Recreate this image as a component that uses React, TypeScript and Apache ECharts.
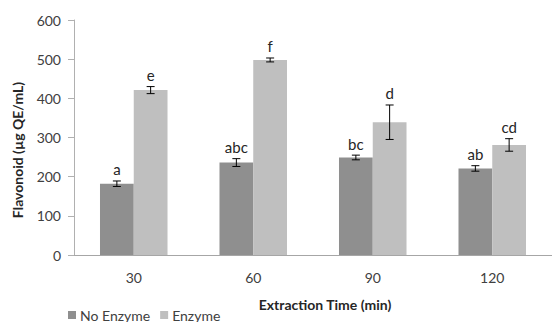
import React, { useEffect, useRef } from "react";
import * as echarts from "echarts";

const categories = ["30", "60", "90", "120"];
const noEnzyme = [182, 236, 249, 221];
const enzyme = [421, 498, 339, 281];
const noEnzymeErr = [7, 10, 6, 7];
const enzymeErr = [9, 5, 44, 16];
const noEnzymeLetters = ["a", "abc", "bc", "ab"];
const enzymeLetters = ["e", "f", "d", "cd"];
const yTicks = { min: 0, max: 600, interval: 100 };

const FONT = "Lato";
const CAT_GAP = 0.435;

function errSeries(name: string, values: number[], errs: number[], letters: string[], sign: number) {
  return {
    type: "custom",
    name: name + " err",
    z: 5,
    silent: true,
    encode: { x: 0, y: 1 },
    data: values.map((v, i) => [i, v, errs[i]]),
    renderItem: (params: any, api: any) => {
      const idx = api.value(0);
      const val = api.value(1);
      const err = api.value(2);
      const band = api.size([1, 0])[0];
      const bw = (band * (1 - CAT_GAP)) / 2;
      const top = api.coord([idx, val + err]);
      const bot = api.coord([idx, val - err]);
      const x = top[0] + (sign * bw) / 2;
      const cap = 4;
      const st = { stroke: "#000", lineWidth: 1 };
      return {
        type: "group",
        children: [
          { type: "line", shape: { x1: x, y1: top[1], x2: x, y2: bot[1] }, style: st },
          { type: "line", shape: { x1: x - cap, y1: top[1], x2: x + cap, y2: top[1] }, style: st },
          { type: "line", shape: { x1: x - cap, y1: bot[1], x2: x + cap, y2: bot[1] }, style: st },
          {
            type: "text",
            x: x,
            y: top[1] - 4,
            style: {
              text: letters[params.dataIndex],
              align: "center",
              verticalAlign: "bottom",
              fontFamily: FONT,
              fontSize: 15,
              fill: "#262626",
            },
          },
        ],
      };
    },
  };
}

export default function App() {
  const ref = useRef<HTMLDivElement>(null);
  useEffect(() => {
    if (!ref.current) return;
    const chart = echarts.init(ref.current, null, { renderer: "svg" });
    chart.setOption({
      animation: false,
      backgroundColor: "#ffffff",
      textStyle: { fontFamily: FONT },
      grid: { left: 74, top: 20, width: 481, height: 235, containLabel: false },
      legend: {
        left: 68,
        top: 308,
        padding: 0,
        itemWidth: 8,
        itemHeight: 8,
        itemGap: 10,
        icon: "rect",
        data: ["No Enzyme", "Enzyme"],
        textStyle: { fontFamily: FONT, fontSize: 14, color: "#404040", padding: [0, 0, 0, -1] },
      },
      xAxis: {
        type: "category",
        data: categories,
        axisLine: { lineStyle: { color: "#a6a6a6", width: 1 } },
        axisTick: { show: false },
        axisLabel: { fontFamily: FONT, fontSize: 14, color: "#404040", margin: 15 },
      },
      yAxis: {
        type: "value",
        min: yTicks.min,
        max: yTicks.max,
        interval: yTicks.interval,
        axisLine: { show: true, lineStyle: { color: "#b0b0b0", width: 1 } },
        axisTick: { show: true, length: 6, lineStyle: { color: "#b0b0b0" } },
        splitLine: { show: false },
        axisLabel: { fontFamily: FONT, fontSize: 14, color: "#404040", margin: 13 },
      },
      graphic: [
        {
          type: "text",
          x: 17,
          y: 150,
          rotation: Math.PI / 2,
          style: {
            text: "Flavonoid (µg QE/mL)",
            align: "center",
            verticalAlign: "middle",
            fontFamily: FONT,
            fontWeight: "bold",
            fontSize: 14,
            fill: "#262626",
          },
        },
        {
          type: "text",
          x: 325,
          y: 304,
          style: {
            text: "Extraction Time (min)",
            align: "center",
            verticalAlign: "middle",
            fontFamily: FONT,
            fontWeight: "bold",
            fontSize: 14,
            fill: "#262626",
          },
        },
      ],
      series: [
        {
          type: "bar",
          name: "No Enzyme",
          data: noEnzyme,
          barGap: "0%",
          barCategoryGap: CAT_GAP * 100 + "%",
          itemStyle: { color: "#8f8f8f" },
        },
        {
          type: "bar",
          name: "Enzyme",
          data: enzyme,
          barGap: "0%",
          barCategoryGap: CAT_GAP * 100 + "%",
          itemStyle: { color: "#bfbfbf" },
        },
        errSeries("No Enzyme", noEnzyme, noEnzymeErr, noEnzymeLetters, -1),
        errSeries("Enzyme", enzyme, enzymeErr, enzymeLetters, 1),
      ],
    });
    return () => chart.dispose();
  }, []);
  return (
    <div
      ref={ref}
      style={{ position: "fixed", left: 0, top: 0, width: 552, height: 322 }}
    />
  );
}
